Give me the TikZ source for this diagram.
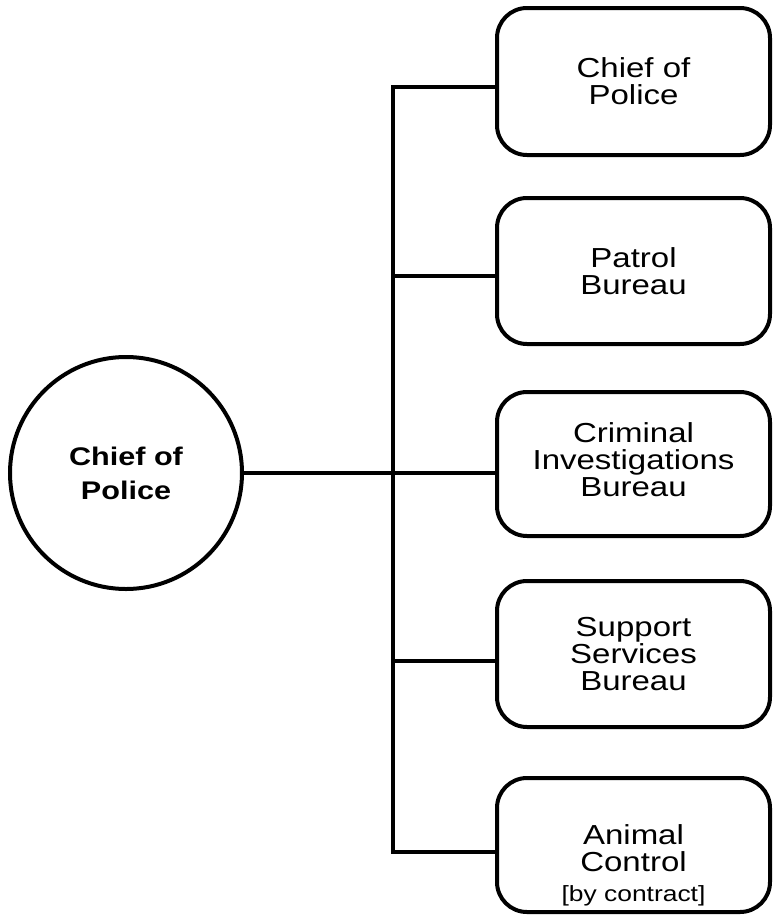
\documentclass[tikz,border=0pt]{standalone}
\usepackage{fontspec}
\setmainfont{Liberation Sans}[FakeStretch=1.2]
\begin{document}
\begin{tikzpicture}[x=1pt,y=-1pt,
  line width=4pt,
  unit/.style={draw, rounded corners=30pt, minimum width=273pt, align=center,
    font=\fontsize{27.5}{27}\selectfont, inner sep=0pt},
  unittext/.style={align=center, font=\fontsize{27.5}{27}\selectfont, inner sep=0pt},
  head/.style={draw, circle, minimum size=232pt, align=center,
    font=\bfseries\fontsize{25.5}{34}\selectfont, inner sep=0pt},
  link/.style={line join=miter, line cap=rect}]
\useasboundingbox (0,0) rectangle (775,924);

% the chief, drawn as a circle
\node[head] (chief) at (126,473) {Chief of\\Police};

% the five units
\node[unit, minimum height=147pt] (b1) at (633.5,81.5) {Chief of\\Police};
\node[unit, minimum height=146pt] (b2) at (633.5,271) {Patrol\\Bureau};
\node[unit, minimum height=144pt] (b3) at (633.5,464) {};
\node[unittext] (b3text) at ([yshift=4pt]b3.center) {Criminal\\Investigations\\Bureau};
\node[unit, minimum height=146pt] (b4) at (633.5,654) {Support\\Services\\Bureau};
\node[unit, minimum height=134pt] (b5) at (633.5,845) {};
\node[unittext] (b5text) at ([yshift=-20pt]b5.center)
  {Animal\\Control\\[3pt]{\fontsize{22}{26}\selectfont[by contract]}};

% junctions on the vertical trunk
\coordinate (j1) at (393,87);
\coordinate (j2) at (393,276);
\coordinate (j3) at (393,473);
\coordinate (j4) at (393,661);
\coordinate (j5) at (393,852);

% trunk with the top and bottom branches
\draw[link] (j1 -| b1.west) -- (j1) -- (j5) -- (j5 -| b5.west);
% middle branches
\draw (j2) -- (j2 -| b2.west);
\draw (j4) -- (j4 -| b4.west);
% the chief's line, straight through to the middle unit
\draw (chief.east) -- (chief.east -| b3.west);
\end{tikzpicture}
\end{document}
